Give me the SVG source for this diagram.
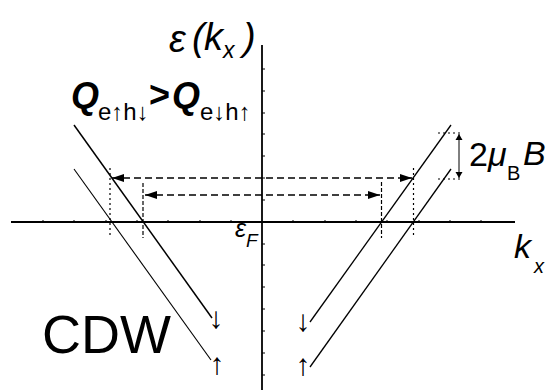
<svg xmlns="http://www.w3.org/2000/svg" width="550" height="390" viewBox="0 0 550 390">
<style>
.ax{stroke:#000;stroke-width:1.8;fill:none}
.tk{stroke:#000;stroke-width:1;fill:none}
.band{stroke:#000;fill:none}
.dot{stroke:#000;stroke-width:1.2;stroke-dasharray:2 3;fill:none}
.dsh{stroke:#000;stroke-width:1.2;stroke-dasharray:4 2;fill:none}
.harr{stroke:#000;stroke-width:1.3;stroke-dasharray:7 4;fill:none}
.t{font-family:"Liberation Sans",Arial,sans-serif;fill:#000}
.ar{font-family:"Liberation Sans",Arial,sans-serif;fill:#000;text-anchor:middle;font-size:30px;font-weight:bold}
.it{font-style:italic}
.b{font-weight:bold}
</style>
<defs>
<marker id="ah" viewBox="0 0 12 8" refX="12" refY="4" markerWidth="12" markerHeight="8" markerUnits="userSpaceOnUse" orient="auto-start-reverse">
<path d="M0,0 L12,4 L0,8 Z" fill="#000"/>
</marker>
<marker id="ah2" viewBox="0 0 6 8" refX="6" refY="4" markerWidth="6" markerHeight="8" markerUnits="userSpaceOnUse" orient="auto-start-reverse">
<path d="M0,0.5 L6,4 L0,7.5 Z" fill="#000"/>
</marker>
</defs>
<rect width="550" height="390" fill="#fff"/>
<g id="axes">
<line class="ax" x1="262" y1="45" x2="262" y2="390"/>
<line class="ax" x1="11" y1="222" x2="515" y2="222"/>
<path class="tk" d="M262,69h3M262,91h3M262,113h3M262,134h3M262,156h3M262,178h3M262,200h3M262,244h3M262,265h3M262,287h3M262,309h3M262,331h3M262,353h3M262,375h3"/>
<path class="tk" d="M43,222v-2M74,222v-2M106,222v-2M137,222v-2M168,222v-2M200,222v-2M231,222v-2M293,222v-2M325,222v-2M356,222v-2M387,222v-2M419,222v-2M450,222v-2M481,222v-2"/>
</g>
<g id="bands">
<line class="band" stroke-width="1.5" x1="74" y1="125" x2="212" y2="318"/>
<line class="band" stroke-width="1.1" x1="74" y1="169" x2="211" y2="360"/>
<line class="band" stroke-width="1.3" x1="310" y1="322" x2="451" y2="125"/>
<line class="band" stroke-width="1.3" x1="310" y1="367" x2="451" y2="169"/>
</g>
<g id="guides">
<line class="dot" x1="110" y1="168" x2="110" y2="238"/>
<line class="dsh" x1="143" y1="183" x2="143" y2="238"/>
<line class="dsh" x1="381.5" y1="182" x2="381.5" y2="238"/>
<line class="dot" x1="413.5" y1="168" x2="413.5" y2="238"/>
<line class="dot" x1="438" y1="133" x2="460" y2="133"/>
<line class="dot" x1="438" y1="179" x2="460" y2="179"/>
</g>
<g id="connectors">
<line class="harr" x1="112" y1="178" x2="412" y2="178" marker-start="url(#ah)" marker-end="url(#ah)"/>
<line class="harr" x1="145" y1="195" x2="380" y2="195" marker-start="url(#ah)" marker-end="url(#ah)"/>
<line stroke="#000" stroke-width="1" x1="459" y1="134" x2="459" y2="178" marker-start="url(#ah2)" marker-end="url(#ah2)"/>
</g>
<g id="labels">
<text id="yLabel" class="t it" font-size="38"><tspan x="169" y="52">ε</tspan><tspan x="192" y="50">(</tspan><tspan x="204" y="50">k</tspan><tspan font-size="23" x="223" y="58">x</tspan><tspan x="243" y="50">)</tspan></text>
<text id="qLabel" class="t" font-size="36"><tspan class="b it" x="71" y="108">Q</tspan><tspan font-size="24" x="98" y="120">e↑h↓</tspan><tspan class="b" x="149" y="107">&gt;</tspan><tspan class="b it" x="172" y="108">Q</tspan><tspan font-size="24" x="200" y="120">e↓h↑</tspan></text>
<text id="zeeman" class="t" font-size="34"><tspan x="469" y="166">2</tspan><tspan class="it" x="488" y="166">μ</tspan><tspan font-size="20" x="507" y="180">B</tspan><tspan class="it" x="523" y="165">B</tspan></text>
<text id="fermi" class="t it" font-size="25"><tspan x="235" y="237">ε</tspan><tspan font-size="19" x="246" y="247">F</tspan></text>
<text id="xLabel" class="t it" font-size="34"><tspan x="514" y="258">k</tspan><tspan font-size="20" x="534" y="273">x</tspan></text>
<text id="cdw" class="t" font-size="54" x="42" y="353">CDW</text>
<text class="ar" x="216" y="328">↓</text>
<text class="ar" x="217" y="374">↑</text>
<text class="ar" x="303" y="331">↓</text>
<text class="ar" x="303" y="375">↑</text>
</g>
</svg>
